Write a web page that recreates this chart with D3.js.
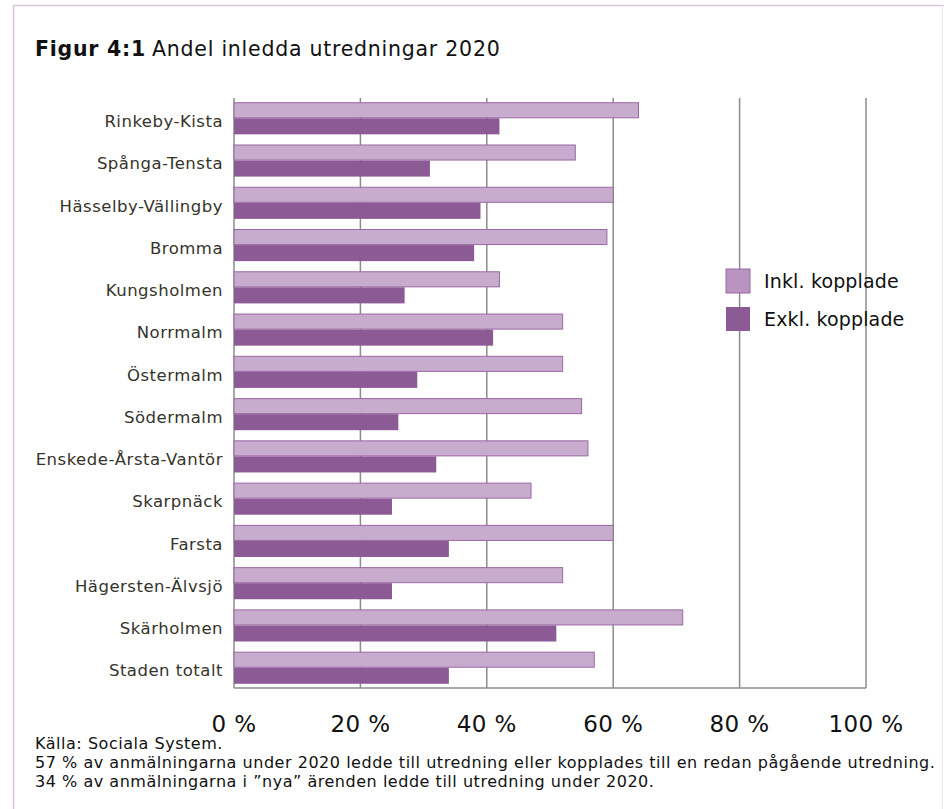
<!DOCTYPE html>
<html>
<head>
<meta charset="utf-8">
<script src="https://cdn.jsdelivr.net/npm/d3@7"></script>
<style>
  body { margin: 0; background: #fff; }
  svg { display: block; }
  text { font-family: "DejaVu Sans", "Open Sans", sans-serif; }
</style>
</head>
<body>
<div id="app"><svg class="chart"></svg></div>
<script>
// data
var districts = ["Rinkeby-Kista", "Spånga-Tensta", "Hässelby-Vällingby", "Bromma",
  "Kungsholmen", "Norrmalm", "Östermalm", "Södermalm", "Enskede-Årsta-Vantör",
  "Skarpnäck", "Farsta", "Hägersten-Älvsjö", "Skärholmen", "Staden totalt"];
var inklKopplade = [64, 54, 60, 59, 42, 52, 52, 55, 56, 47, 60, 52, 71, 57];
var exklKopplade = [42, 31, 39, 38, 27, 41, 29, 26, 32, 25, 34, 25, 51, 34];
var seriesNames = ["Inkl. kopplade", "Exkl. kopplade"];
var xTicks = [0, 20, 40, 60, 80, 100];
var notes = [
  "Källa: Sociala System.",
  "57 % av anmälningarna under 2020 ledde till utredning eller kopplades till en redan pågående utredning.",
  "34 % av anmälningarna i ”nya” ärenden ledde till utredning under 2020."
];

var width = 944,
  height = 809;

var svg = d3.select(".chart")
  .attr("width", width)
  .attr("height", height);

// frame
svg.append("line").attr("x1", 13).attr("x2", 944).attr("y1", 5.5).attr("y2", 5.5)
  .attr("stroke", "#d9c2dd").attr("stroke-width", 1.5);
svg.append("line").attr("x1", 13.5).attr("x2", 13.5).attr("y1", 5).attr("y2", 809)
  .attr("stroke", "#d9c2dd").attr("stroke-width", 1.5);
svg.append("line").attr("x1", 942.5).attr("x2", 942.5).attr("y1", 5).attr("y2", 809)
  .attr("stroke", "#e6e6e6").attr("stroke-width", 1);

// title
var title = svg.append("text").attr("x", 35).attr("y", 56)
  .attr("font-size", 20.5).attr("letter-spacing", 0.75).attr("fill", "#111");
title.append("tspan").attr("font-weight", "bold").text("Figur 4:1");
title.append("tspan").attr("dx", 6).text("Andel inledda utredningar 2020");

var x = d3.scaleLinear().domain([0, 100]).range([234, 866]);

var y = d3.scaleBand()
  .domain(districts)
  .range([98, 688])
  .paddingInner(0.24)
  .paddingOuter(0.1);

var sub = d3.scaleBand()
  .domain(seriesNames)
  .range([0, y.bandwidth()]);

// gridlines
svg.append("g").selectAll("line")
  .data(xTicks)
  .enter()
  .append("line")
  .attr("x1", function(d) { return x(d); })
  .attr("x2", function(d) { return x(d); })
  .attr("y1", 98)
  .attr("y2", 688)
  .attr("stroke", "#8c8c8c")
  .attr("stroke-width", 1.5);

// bars
var rows = districts.map(function(d, i) {
  return { name: d, inkl: inklKopplade[i], exkl: exklKopplade[i] };
});

var groups = svg.append("g").selectAll("g")
  .data(rows)
  .enter()
  .append("g")
  .attr("transform", function(d) { return "translate(0," + y(d.name) + ")"; });

groups.append("rect")
  .attr("x", x(0))
  .attr("y", sub(seriesNames[0]) + 0.5)
  .attr("width", function(d) { return x(d.inkl) - x(0); })
  .attr("height", sub.bandwidth() - 1)
  .attr("fill", "#c8accd")
  .attr("stroke", "#9a68a3")
  .attr("stroke-width", 1);

groups.append("rect")
  .attr("x", x(0))
  .attr("y", sub(seriesNames[1]))
  .attr("width", function(d) { return x(d.exkl) - x(0); })
  .attr("height", sub.bandwidth())
  .attr("fill", "#8c5a94");

// axis lines
svg.append("line").attr("x1", x(0)).attr("x2", x(100)).attr("y1", 688).attr("y2", 688)
  .attr("stroke", "#8c8c8c").attr("stroke-width", 1.5);

// category labels
svg.append("g").selectAll("text")
  .data(districts)
  .enter()
  .append("text")
  .attr("x", 223)
  .attr("y", function(d) { return y(d) + y.bandwidth() / 2 + 3; })
  .attr("dy", "0.35em")
  .attr("text-anchor", "end")
  .attr("font-size", 16.5)
  .attr("letter-spacing", 0.5)
  .attr("fill", "#35332a")
  .text(function(d) { return d; });

// x tick labels
svg.append("g").selectAll("text")
  .data(xTicks)
  .enter()
  .append("text")
  .attr("x", function(d) { return x(d); })
  .attr("y", 732)
  .attr("text-anchor", "middle")
  .attr("font-size", 23)
  .attr("letter-spacing", 0.4)
  .attr("fill", "#111")
  .text(function(d) { return d + " %"; });

// legend
var legend = svg.append("g").selectAll("g")
  .data(seriesNames)
  .enter()
  .append("g")
  .attr("transform", function(d, i) { return "translate(726," + (269 + i * 38) + ")"; });

legend.append("rect")
  .attr("width", 24)
  .attr("height", 24)
  .attr("fill", function(d, i) { return i === 0 ? "#b994c0" : "#8c5a94"; })
  .attr("stroke", function(d, i) { return i === 0 ? "#9a68a3" : "none"; });

legend.append("text")
  .attr("x", 38)
  .attr("y", 19)
  .attr("font-size", 19)
  .attr("letter-spacing", 0.15)
  .attr("fill", "#111")
  .text(function(d) { return d; });

// notes
svg.append("g").selectAll("text")
  .data(notes)
  .enter()
  .append("text")
  .attr("x", 35)
  .attr("y", function(d, i) { return 749 + i * 19; })
  .attr("font-size", 16)
  .attr("letter-spacing", 0.53)
  .attr("fill", "#111")
  .text(function(d) { return d; });
</script>
</body>
</html>
